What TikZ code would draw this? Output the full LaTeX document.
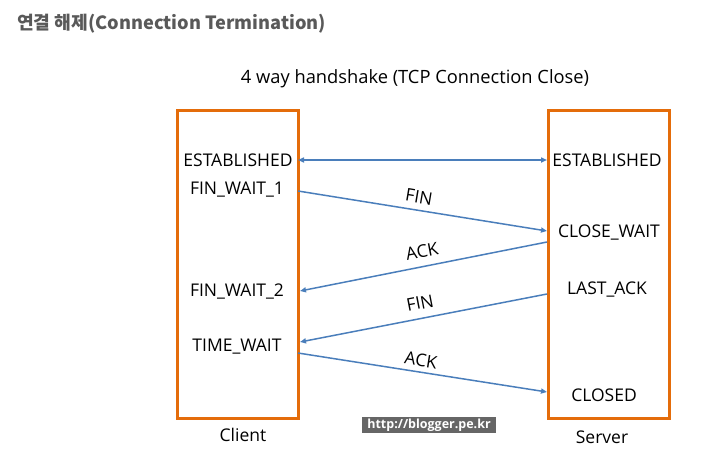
\documentclass[tikz,border=0pt]{standalone}
\usepackage{fontspec}
\setmainfont{Open Sans}
\newfontfamily\krfont{Noto Sans CJK KR}
\usepackage{tikz}
\usetikzlibrary{arrows.meta,positioning}
\definecolor{boxorange}{HTML}{E46C0A}
\definecolor{msgblue}{HTML}{4A7EBB}
\definecolor{titlegray}{HTML}{595959}
\definecolor{markgray}{HTML}{666666}
\tikzset{
  sidebox/.style={draw=boxorange, line width=3pt, minimum width=121pt, minimum height=308pt, inner sep=0pt},
  state/.style={font=\fontsize{17.5}{20}\selectfont, inner sep=0pt},
  msg/.style={-{Triangle[length=6pt, width=5pt]}, line width=1.5pt, msgblue},
  msglbl/.style={font=\fontsize{17.5}{20}\selectfont, inner sep=0pt},
}

\begin{document}
\begin{tikzpicture}[x=1pt, y=-1pt]
\useasboundingbox (0,0) rectangle (722,452);
\node[anchor=west, inner sep=0pt, font=\krfont\bfseries\fontsize{18.2}{21}\selectfont, text=titlegray] (title) at (17,24) {연결 해제(Connection Termination)};
\node[font=\fontsize{18.3}{21}\selectfont] (caption) at (415,79) {4 way handshake (TCP Connection Close)};
% the two hosts
\node[sidebox] (client) at (237.5,264.5) {};
\node[sidebox] (server) at (608.5,264.5) {};
\node[state] (clientname) at (243,435) {Client};
\node[state] (servername) at (602,437) {Server};
% client states
\node[state] (cest) at (238,160) {ESTABLISHED};
\node[state] (cfw1) at (237,190) {FIN\_WAIT\_1};
\node[state] (cfw2) at (237,292) {FIN\_WAIT\_2};
\node[state] (ctw) at (237,347) {TIME\_WAIT};
% server states
\node[state] (sest) at (607,160) {ESTABLISHED};
\node[state] (scw) at (609,232) {CLOSE\_WAIT};
\node[state] (sla) at (607,290) {LAST\_ACK};
\node[state] (scl) at (604,395) {CLOSED};
% end points on the box edges
\coordinate (c0) at (298,160);
\coordinate (s0) at (547,160);
\coordinate (c1) at (298,191);
\coordinate (s1) at (547,231);
\coordinate (s2) at (547,242);
\coordinate (c2) at (300,291);
\coordinate (s3) at (547,294);
\coordinate (c3) at (300,342);
\coordinate (c4) at (298,353);
\coordinate (s4) at (547,392);
% messages
\draw[msg, {Triangle[length=6pt, width=5pt]}-{Triangle[length=6pt, width=5pt]}] (c0) -- (s0);
\draw[msg] (c1) -- (s1);
\draw[msg] (s2) -- (c2);
\draw[msg] (s3) -- (c3);
\draw[msg] (c4) -- (s4);
\node[msglbl, rotate=-9.5] (fin1) at (419,197) {FIN};
\node[msglbl, rotate=11] (ack1) at (422,251) {ACK};
\node[msglbl, rotate=11] (fin2) at (420,303) {FIN};
\node[msglbl, rotate=-9] (ack2) at (421,360) {ACK};
\node[fill=markgray, text=white, font=\bfseries\fontsize{12.5}{14}\selectfont, minimum width=134pt, minimum height=16pt, inner sep=0pt] (mark) at (429,425) {http://blogger.pe.kr};
\end{tikzpicture}
\end{document}
